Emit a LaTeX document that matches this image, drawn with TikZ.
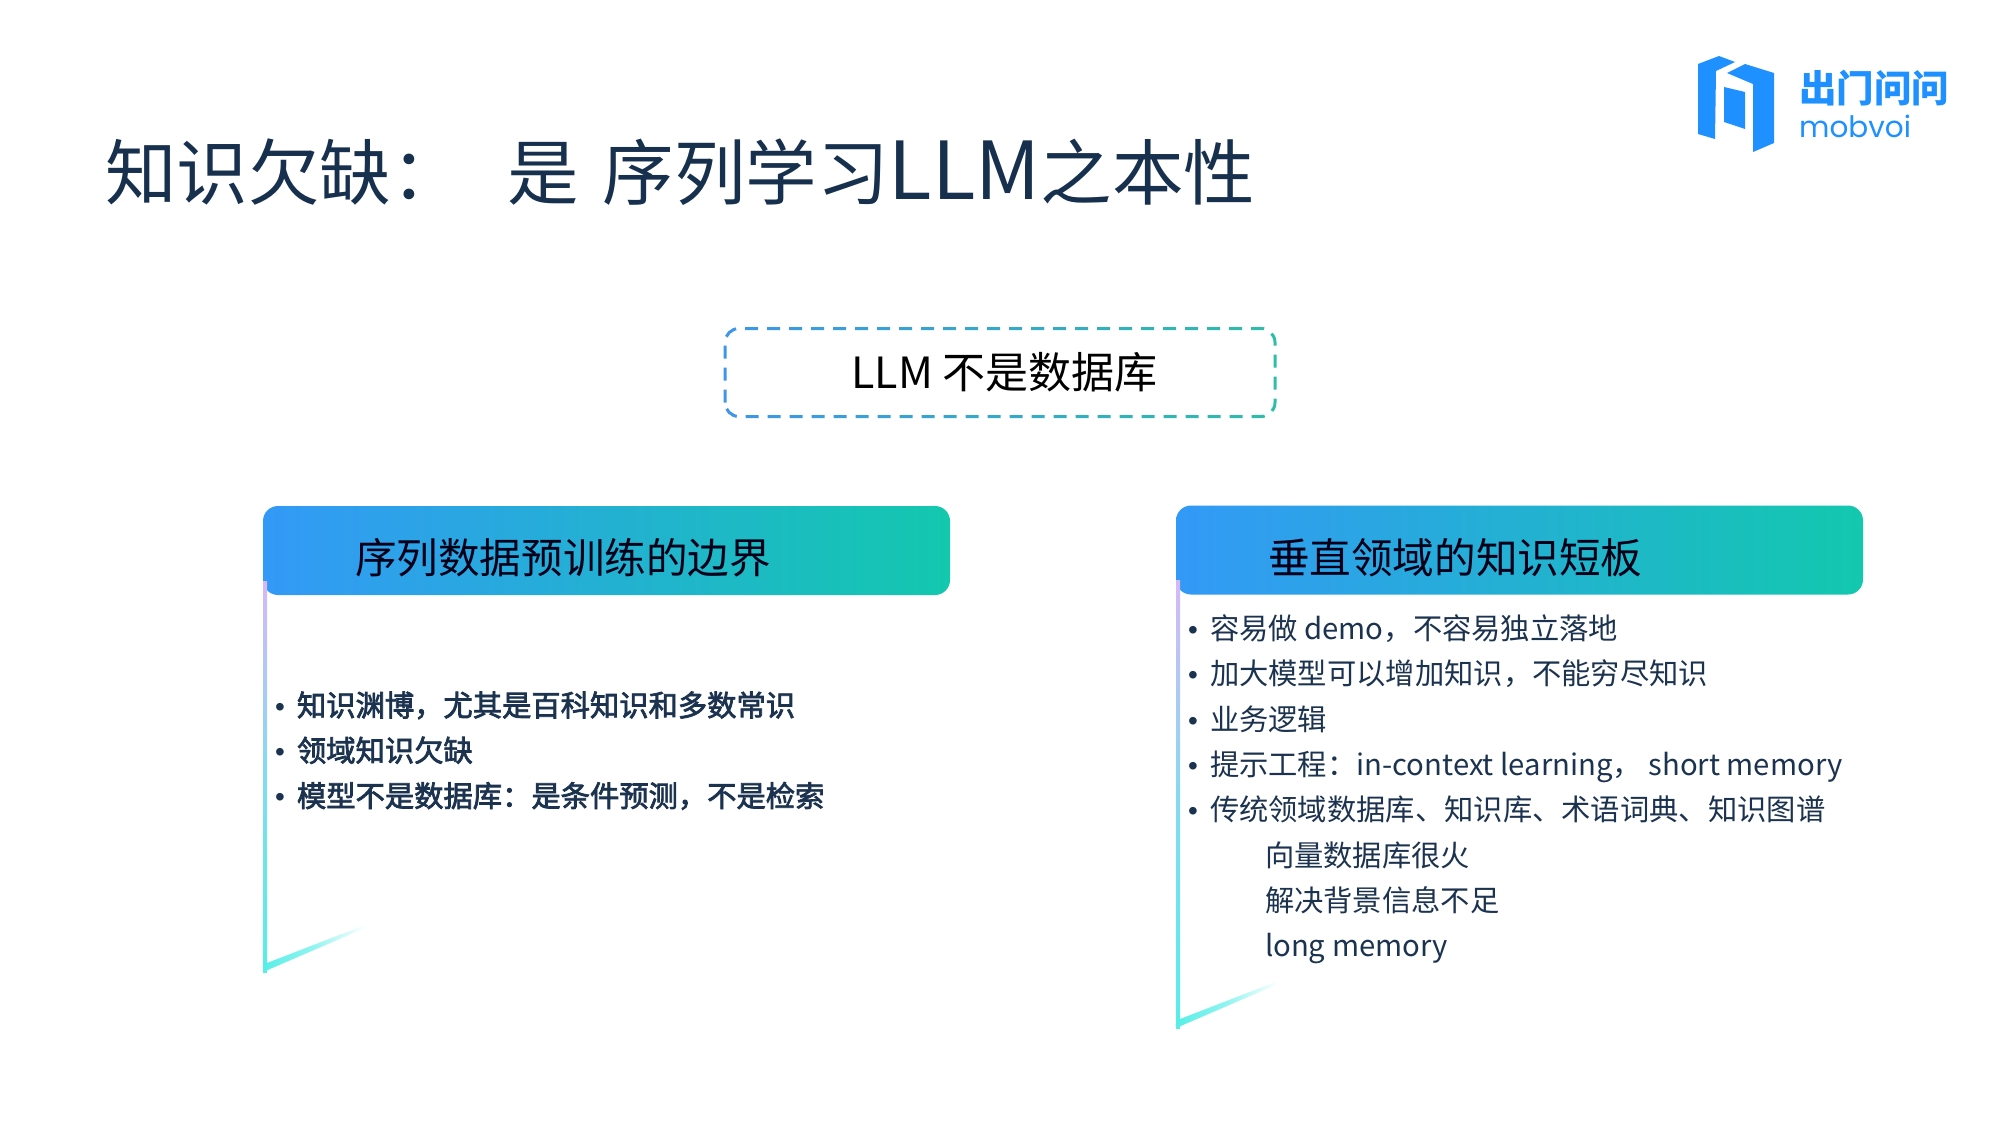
\documentclass[tikz,border=0pt]{standalone}
\usepackage{fontspec}
\setmainfont{Noto Sans CJK SC}
\newfontfamily\listboldfont[FakeBold=2.5]{Noto Sans CJK SC}
\newfontfamily\bltfont{Liberation Sans}
\newfontfamily\logofont{Poppins}
\usetikzlibrary{positioning}
\definecolor{titlenavy}{HTML}{17304D}
\definecolor{listnavy}{HTML}{1C3350}
\definecolor{headblue}{HTML}{3399F7}
\definecolor{headteal}{HTML}{13C8AE}
\definecolor{dashblue}{HTML}{3D96E8}
\definecolor{dashteal}{HTML}{2DBEA8}
\definecolor{sidelilac}{HTML}{D6B8F6}
\definecolor{sidecyan}{HTML}{57EEE8}
\definecolor{logoblue}{HTML}{1E90FF}
\newcommand{\blt}{\makebox[22pt][l]{\bltfont\fontsize{28}{28}\selectfont•}}
\newcommand{\sidebracket}[2]{% header node, bottom y
    \shade[top color=sidelilac, bottom color=sidecyan, middle color=sidecyan!65!sidelilac]
        ([yshift=14pt]#1.south west) rectangle ([xshift=4pt]#1.south west |- 0,#2);
    \shade[left color=sidecyan, right color=white, middle color=sidecyan!65!white]
        (#1.south west |- 0,#2) -- ([xshift=102pt]#1.south west |- 0,#2-44)
        -- ([xshift=102pt]#1.south west |- 0,#2-47) -- ([xshift=4pt]#1.south west |- 0,#2-9) -- cycle;
}
\tikzset{
    headbox/.style={shade, left color=headblue, right color=headteal, rounded corners=15pt,
        minimum width=687pt, minimum height=89pt, inner sep=0pt, outer sep=0pt,
        text=black!90!blue, align=left, text width=503pt, text height=53.5pt, text depth=7.2pt,
        font=\fontsize{41.6}{48}\selectfont},
    listline/.style={anchor=west, inner sep=0pt, outer sep=0pt, text=listnavy,
        text height=25.8pt, text depth=3.5pt, font=\fontsize{29.3}{35}\selectfont},
    listbold/.style={listline, font=\listboldfont\fontsize{29.3}{35}\selectfont},
    logopart/.style={fill=logoblue, draw=none}
}
\begin{document}
\begin{tikzpicture}[x=1pt, y=-1pt]
    \useasboundingbox (0,0) rectangle (2000,1125);

    \node [anchor=west, inner sep=0pt, text=titlenavy, font=\fontsize{71.5}{80}\selectfont]
        (title) at (105,172) {知识欠缺：\hspace{44.5pt}是\hspace{24pt}序列学习{\fontsize{80}{80}\selectfont LLM}之本性};

    % dashed box, coloured slice by slice
    \node [minimum width=550pt, minimum height=88pt, inner sep=0pt, outer sep=0pt,
        font=\fontsize{43}{48}\selectfont] (notdb) at (1000,372.5) {\hspace*{9pt}LLM 不是数据库};
    \foreach \i in {0,...,24}{
        \pgfmathsetmacro{\mixval}{100-\i*100/24}
        \begin{scope}
            \clip (722+\i*23,320) rectangle (722+\i*23+23,428);
            \draw [dashblue!\mixval!dashteal, line width=3pt, dash pattern=on 13pt off 9pt, rounded corners=14pt]
                (notdb.south west) rectangle (notdb.north east);
        \end{scope}
    }

    \node [headbox] (lefthead) at (606.5,550.5) {序列数据预训练的边界};
    \node [headbox] (righthead) at (1519.5,550) {垂直领域的知识短板};
    \sidebracket{lefthead}{972}
    \sidebracket{righthead}{1028}

    \node [listbold] (la) at (275,705) {\blt 知识渊博，尤其是百科知识和多数常识};
    \node [listbold, below=45.3pt of la.west, anchor=west] (lb) {\blt 领域知识欠缺};
    \node [listbold, below=45.3pt of lb.west, anchor=west] (lc) {\blt 模型不是数据库：是条件预测，不是检索};

    \node [listline] (ra) at (1188,628.5) {\blt 容易做 demo，不容易独立落地};
    \node [listline, below=45.3pt of ra.west, anchor=west] (rb) {\blt 加大模型可以增加知识，不能穷尽知识};
    \node [listline, below=45.3pt of rb.west, anchor=west] (rc) {\blt 业务逻辑};
    \node [listline, below=45.3pt of rc.west, anchor=west] (rd) {\blt 提示工程：in-context learning， short memory};
    \node [listline, below=45.3pt of rd.west, anchor=west] (re) {\blt 传统领域数据库、知识库、术语词典、知识图谱};
    \node [listline, below=45.3pt of re.west, anchor=west, xshift=77pt] (rf) {向量数据库很火};
    \node [listline, below=45.3pt of rf.west, anchor=west] (rg) {解决背景信息不足};
    \node [listline, below=45.3pt of rg.west, anchor=west] (rh) {long memory};

    % logo
    \fill [logopart] (1698,64) -- (1719,56) -- (1735,62) -- (1716,71) -- (1715,139) -- (1698,134) -- cycle;
    \fill [logopart] (1727,73) -- (1745,64) -- (1774,73) -- (1774,143) -- (1753,152) -- (1753,84) -- cycle;
    \fill [logopart] (1724,87) -- (1745,92) -- (1745,129) -- (1724,122) -- cycle;
    \node [anchor=west, inner sep=0pt, text=logoblue, font=\fontsize{37.5}{40}\selectfont\bfseries]
        (logocn) at (1799,88) {出门问问};
    \node [anchor=west, inner sep=0pt, text=logoblue, font=\logofont\fontsize{29.5}{30}\selectfont]
        (logoen) at (1799,126) {mobvoi};
\end{tikzpicture}
\end{document}
